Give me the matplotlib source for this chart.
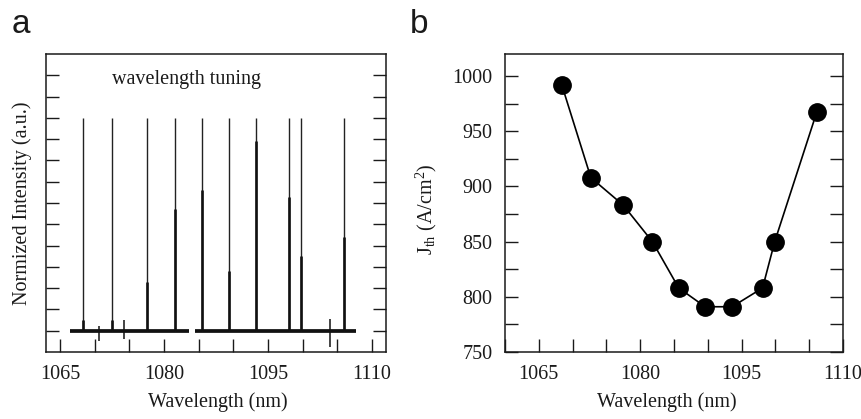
import numpy as np
import matplotlib
matplotlib.use("Agg")
import matplotlib.pyplot as plt
from matplotlib.ticker import MultipleLocator

# ================== DATA ===================
# panel a: lasing peaks of the tuned spectrum
peak_nm = [1068.3, 1072.5, 1077.5, 1081.6, 1085.5, 1089.4, 1093.3, 1098.0, 1099.8, 1106.0]
peak_height = [1.0] * len(peak_nm)
shoulder_height = [0.05, 0.05, 0.23, 0.57, 0.66, 0.28, 0.89, 0.63, 0.35, 0.44]
baseline_start = [1066.4, 1084.5]
baseline_end = [1083.6, 1107.7]
spike_nm = [1070.7, 1074.2, 1104.0]
spike_low = [-0.05, -0.04, -0.076]
spike_high = [0.02, 0.05, 0.055]

# panel b: threshold current density
jth_nm = [1068.4, 1072.7, 1077.5, 1081.8, 1085.7, 1089.6, 1093.6, 1098.1, 1099.9, 1106.1]
jth = [992, 908, 883, 850, 808, 791, 791, 808, 850, 967]

x_ticks = [1065, 1080, 1095, 1110]
jth_ticks = [750, 800, 850, 900, 950, 1000]

# ================== STYLE ===================
plt.rcParams['font.family'] = ['Liberation Serif', 'DejaVu Serif']
plt.rcParams['mathtext.fontset'] = 'custom'
plt.rcParams['mathtext.rm'] = 'Liberation Serif'
plt.rcParams['mathtext.it'] = 'Liberation Serif:italic'
plt.rcParams['axes.linewidth'] = 1.1
FS = 14.5
INK = "#1a1a1a"

W, H = 862, 419
fig = plt.figure(figsize=(W / 100, H / 100), dpi=100)


def px_axes(left, top, right, bottom):
    return fig.add_axes([left / W, 1 - bottom / H, (right - left) / W, (bottom - top) / H])


def style_ticks(ax):
    ax.tick_params(which="both", direction="in", length=9.5, width=1.0,
                   top=False, right=True, labelsize=FS, pad=9, colors=INK)
    for s in ax.spines.values():
        s.set_color(INK)


# ================== PANEL a ===================
ax1 = px_axes(46, 54, 386, 352)
for xs, xe in zip(baseline_start, baseline_end):
    ax1.plot([xs, xe], [0, 0], color="#111111", lw=2.7, solid_capstyle="butt")
ax1.vlines(peak_nm, 0, peak_height, color="#222222", lw=1.0)
ax1.vlines(peak_nm, 0, shoulder_height, color="#111111", lw=1.9)
ax1.vlines(spike_nm, spike_low, spike_high, color="#111111", lw=1.1)

ax1.set_xlim(1063, 1112)
ax1.set_ylim(-0.1, 1.3)
ax1.set_xticks(x_ticks)
ax1.xaxis.set_minor_locator(MultipleLocator(5))
ax1.set_yticks(np.arange(0, 1.25, 0.1))
ax1.set_yticklabels([])
style_ticks(ax1)
ax1.tick_params(axis="y", labelleft=False)
ax1.text(1083.2, 1.178, "wavelength tuning", fontsize=FS, ha="center", va="center", color=INK)
ax1.set_xlabel("Wavelength (nm)", fontsize=FS, color=INK)
ax1.xaxis.set_label_coords(0.506, -0.135)
ax1.set_ylabel("Normized Intensity (a.u.)", fontsize=FS, color=INK)
ax1.yaxis.set_label_coords(-0.041, 0.5)

# ================== PANEL b ===================
ax2 = px_axes(505, 54, 843, 352)
ax2.plot(jth_nm, jth, color="black", lw=1.2, marker="o", markersize=12.5,
         markerfacecolor="black", markeredgecolor="black")
ax2.set_xlim(1060, 1110)
ax2.set_ylim(750, 1020)
ax2.set_xticks(x_ticks)
ax2.xaxis.set_minor_locator(MultipleLocator(5))
ax2.set_yticks(jth_ticks)
ax2.yaxis.set_minor_locator(MultipleLocator(25))
style_ticks(ax2)
ax2.set_xlabel("Wavelength (nm)", fontsize=FS, color=INK)
ax2.xaxis.set_label_coords(0.48, -0.135)
ax2.set_ylabel(r"J$_{\rm th}$ (A/cm$^{2}$)", fontsize=FS, color=INK)
ax2.yaxis.set_label_coords(-0.195, 0.48)

# panel letters
fig.text(12 / W, 1 - 33 / H, "a", fontsize=24, family="Liberation Sans", va="baseline", color=INK)
fig.text(410 / W, 1 - 33 / H, "b", fontsize=24, family="Liberation Sans", va="baseline", color=INK)

fig.savefig("out.png", dpi=100)
